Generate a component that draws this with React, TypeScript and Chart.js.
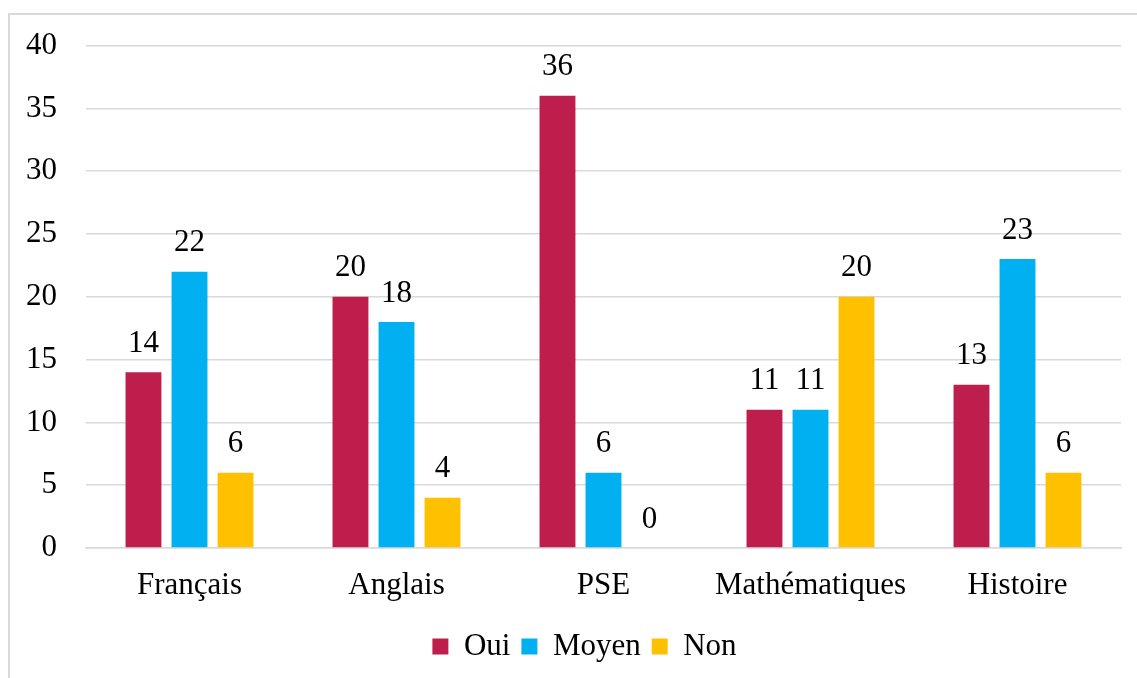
import React, { useEffect, useRef } from "react";
import { Chart, registerables } from "chart.js";

Chart.register(...registerables);

const categories = ["Français", "Anglais", "PSE", "Mathématiques", "Histoire"];
const oui = [14, 20, 36, 11, 13];
const moyen = [22, 18, 6, 11, 23];
const non = [6, 4, 0, 20, 6];
const seriesNames = ["Oui", "Moyen", "Non"];
const colors = ["#BE1E4B", "#00B0F0", "#FFC000"];

const FONT = "'Liberation Serif', 'Times New Roman', serif";
const FS = 31;

const valueLabels = {
  id: "valueLabels",
  afterDatasetsDraw(chart: any) {
    const ctx = chart.ctx;
    ctx.save();
    ctx.font = `${FS}px ${FONT}`;
    ctx.fillStyle = "#000";
    ctx.textAlign = "center";
    ctx.textBaseline = "bottom";
    chart.data.datasets.forEach((ds: any, i: number) => {
      const meta = chart.getDatasetMeta(i);
      meta.data.forEach((bar: any, j: number) => {
        ctx.fillText(String(ds.data[j]), bar.x, bar.y - 13);
      });
    });
    ctx.restore();
  },
};

const legendShift = {
  id: "legendShift",
  afterLayout(chart: any) {
    const lg = chart.legend;
    if (lg) {
      lg.left += 19;
      lg.right += 19;
    }
  },
};

export default function App() {
  const ref = useRef<HTMLCanvasElement>(null);
  useEffect(() => {
    if (!ref.current) return;
    const data = [oui, moyen, non];
    const chart = new Chart(ref.current, {
      type: "bar",
      data: {
        labels: categories,
        datasets: data.map((d, i) => ({
          label: seriesNames[i],
          data: d,
          backgroundColor: colors[i],
          borderWidth: 0,
          categoryPercentage: 0.667,
          barPercentage: 0.78,
        })),
      },
      options: {
        responsive: false,
        animation: false,
        layout: { padding: { top: 14, right: 79, left: 0, bottom: 14 } },
        plugins: {
          legend: {
            position: "bottom",
            labels: {
              font: { family: FONT, size: FS },
              color: "#000",
              boxWidth: 16,
              boxHeight: 16,
              padding: 11,
            },
          },
          tooltip: { enabled: false },
        },
        scales: {
          x: {
            afterFit: (s: any) => {
              s.height = 72;
            },
            grid: { display: false, drawTicks: false },
            border: { display: true, color: "#d9d9d9", width: 1.5 },
            ticks: { font: { family: FONT, size: FS }, color: "#000", padding: 19 },
          },
          y: {
            min: 0,
            max: 40,
            afterFit: (s: any) => {
              s.width = 76;
            },
            ticks: { stepSize: 5, font: { family: FONT, size: FS }, color: "#000", padding: 29 },
            grid: { color: "#d9d9d9", lineWidth: 1.5, drawTicks: false },
            border: { display: false },
          },
        },
      },
      plugins: [valueLabels, legendShift],
    });
    return () => chart.destroy();
  }, []);
  return (
    <div
      style={{
        position: "absolute",
        left: 8,
        top: 13,
        width: 1200,
        height: 700,
        border: "2px solid #d9d9d9",
        boxSizing: "border-box",
        overflow: "hidden",
        background: "#fff",
      }}
    >
      <canvas
        ref={ref}
        width={1190}
        height={688}
        style={{ display: "block", marginTop: -17 }}
      />
    </div>
  );
}
